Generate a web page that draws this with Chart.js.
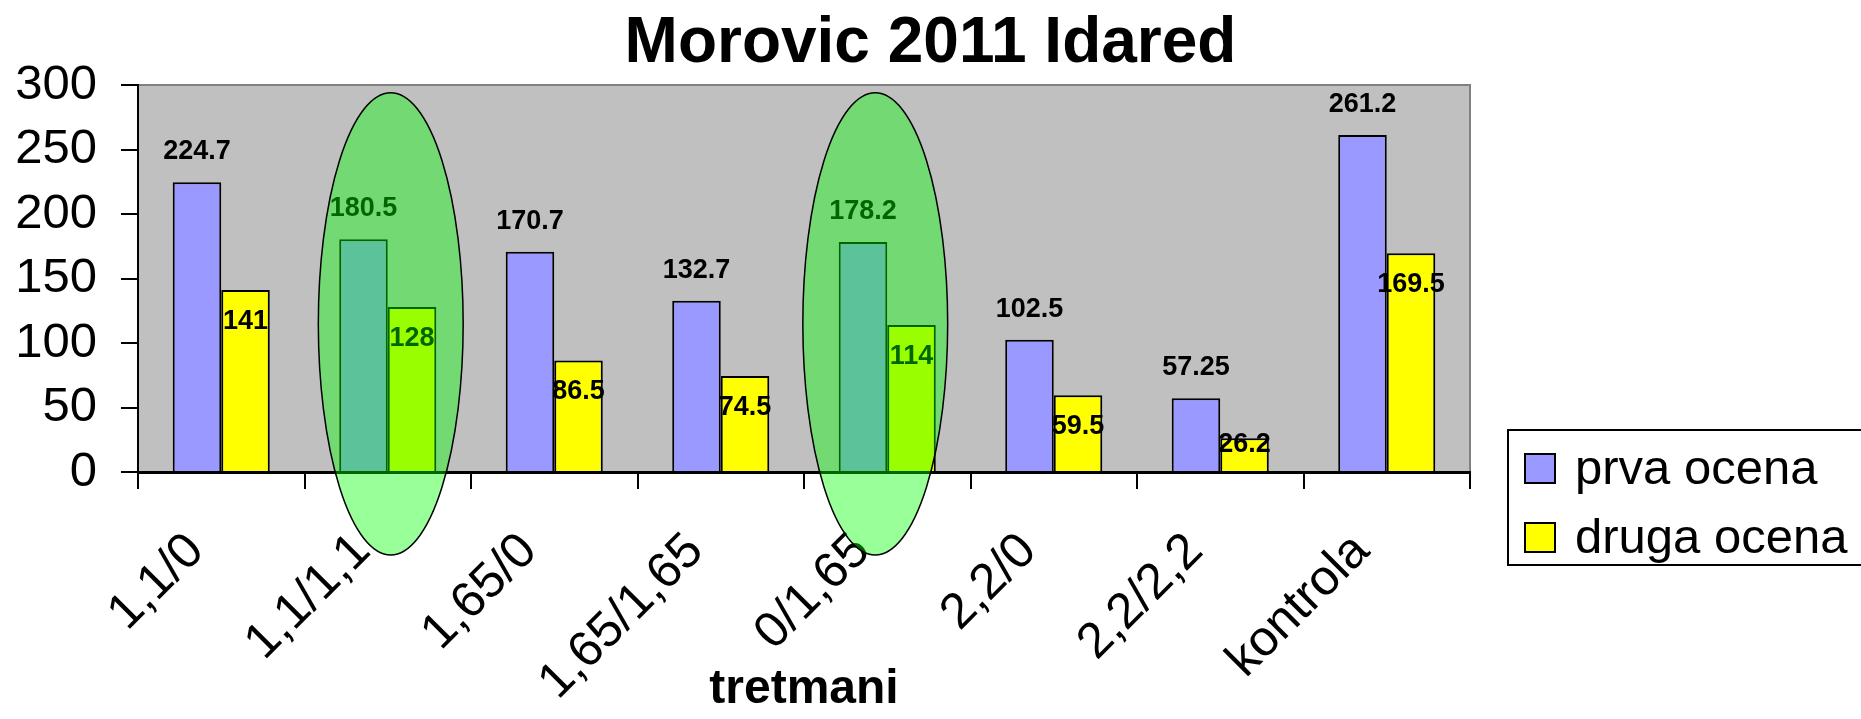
<!DOCTYPE html>
<html>
<head>
<meta charset="utf-8">
<script src="https://cdn.jsdelivr.net/npm/chart.js@4.4.1/dist/chart.umd.min.js"></script>
<style>
    html, body { margin: 0; padding: 0; background: #ffffff; }
    canvas { display: block; }
</style>
</head>
<body>
<canvas id="myChart" width="1861" height="719"></canvas>
<script>
var chartTitle = "Morovic 2011 Idared";
var xTitle = "tretmani";
var xValues = ["1,1/0", "1,1/1,1", "1,65/0", "1,65/1,65", "0/1,65", "2,2/0", "2,2/2,2", "kontrola"];
var prvaValues = [224.7, 180.5, 170.7, 132.7, 178.2, 102.5, 57.25, 261.2];
var drugaValues = [141, 128, 86.5, 74.5, 114, 59.5, 26.2, 169.5];
var seriesNames = ["prva ocena", "druga ocena"];
var seriesColors = ["#9999ff", "#ffff00"];
var yTicks = [0, 50, 100, 150, 200, 250, 300];
// categories circled by the green ellipses
var highlighted = [1, 4];
var highlightShift = [3, -12];

var FONT = "'Liberation Sans', Arial, sans-serif";

// Background, labels, ellipses, title and legend
var decorations = {
    id: 'decorations',
    beforeDraw: function (chart) {
        let ctx = chart.ctx;
        let a = chart.chartArea;
        ctx.save();
        ctx.fillStyle = '#c0c0c0';
        ctx.fillRect(a.left, a.top, a.right - a.left, a.bottom - a.top);
        ctx.strokeStyle = '#808080';
        ctx.lineWidth = 2;
        ctx.beginPath();
        ctx.moveTo(a.left, a.top);
        ctx.lineTo(a.right, a.top);
        ctx.lineTo(a.right, a.bottom);
        ctx.stroke();
        ctx.restore();
    },
    afterDatasetsDraw: function (chart) {
        let ctx = chart.ctx;
        let xs = chart.scales.x;
        let ys = chart.scales.y;
        let a = chart.chartArea;
        let base = ys.getPixelForValue(0);
        ctx.save();
        // value labels
        ctx.fillStyle = '#000';
        ctx.font = 'bold 27px ' + FONT;
        ctx.textAlign = 'center';
        ctx.textBaseline = 'alphabetic';
        chart.getDatasetMeta(0).data.forEach(function (bar, i) {
            ctx.fillText(String(prvaValues[i]), bar.x, bar.y - 23);
        });
        chart.getDatasetMeta(1).data.forEach(function (bar, i) {
            let y = Math.min(bar.y + 39, base - 20);
            ctx.fillText(String(drugaValues[i]), bar.x, y);
        });
        // ellipses over the highlighted treatments
        let catW = (a.right - a.left) / xValues.length;
        highlighted.forEach(function (idx, k) {
            let cx = xs.getPixelForValue(idx) + highlightShift[k];
            let top = ys.getPixelForValue(294);
            let bottom = a.bottom + 83;
            ctx.beginPath();
            ctx.ellipse(cx, (top + bottom) / 2, catW * 0.435, (bottom - top) / 2, 0, 0, Math.PI * 2);
            ctx.fillStyle = 'rgba(0,255,0,0.4)';
            ctx.fill();
            ctx.strokeStyle = '#000';
            ctx.lineWidth = 1.5;
            ctx.stroke();
        });
        ctx.restore();
    },
    afterDraw: function (chart) {
        let ctx = chart.ctx;
        let a = chart.chartArea;
        ctx.save();
        // title
        ctx.fillStyle = '#000';
        ctx.font = 'bold 64px ' + FONT;
        ctx.textAlign = 'center';
        ctx.textBaseline = 'alphabetic';
        ctx.fillText(chartTitle, chart.width / 2, 62);
        // legend
        let lx = a.right + 38;
        let ly = a.bottom - 42;
        ctx.lineWidth = 2;
        ctx.strokeStyle = '#000';
        ctx.strokeRect(lx, ly, 420, 135);
        ctx.font = '49px ' + FONT;
        ctx.textAlign = 'left';
        ctx.textBaseline = 'middle';
        seriesNames.forEach(function (name, i) {
            let cy = ly + 38 + i * 69;
            ctx.fillStyle = seriesColors[i];
            ctx.fillRect(lx + 17, cy - 14, 30, 29);
            ctx.strokeRect(lx + 17, cy - 14, 30, 29);
            ctx.fillStyle = '#000';
            ctx.fillText(name, lx + 67, cy + 2);
        });
        ctx.restore();
    }
};

new Chart("myChart", {
    type: "bar",
    data: {
        labels: xValues,
        datasets: [{
            label: seriesNames[0],
            data: prvaValues,
            backgroundColor: seriesColors[0],
            borderColor: "#000",
            borderWidth: 2
        }, {
            label: seriesNames[1],
            data: drugaValues,
            backgroundColor: seriesColors[1],
            borderColor: "#000",
            borderWidth: 2
        }]
    },
    options: {
        responsive: false,
        animation: false,
        layout: {
            padding: { left: 17, top: 85, right: 391, bottom: 0 }
        },
        plugins: {
            legend: { display: false },
            title: { display: false },
            tooltip: { enabled: false }
        },
        datasets: {
            bar: { categoryPercentage: 0.583, barPercentage: 1.0 }
        },
        scales: {
            x: {
                z: 1,
                grid: { drawOnChartArea: false, tickLength: 17, color: "#000", lineWidth: 2 },
                border: { color: "#000", width: 3 },
                ticks: {
                    color: "#000",
                    font: { family: FONT, size: 50 },
                    minRotation: 45,
                    maxRotation: 45,
                    padding: 33,
                    labelOffset: -25
                },
                title: {
                    display: true,
                    text: xTitle,
                    color: "#000",
                    font: { family: FONT, size: 48, weight: "bold" },
                    padding: 0
                },
                afterFit: function (scale) { scale.height = 247; }
            },
            y: {
                min: 0,
                max: 300,
                afterBuildTicks: function (scale) {
                    scale.ticks = yTicks.map(function (v) { return { value: v }; });
                },
                grid: { drawOnChartArea: false, tickLength: 17, color: "#000", lineWidth: 2 },
                border: { color: "#000", width: 2 },
                ticks: {
                    color: "#000",
                    font: { family: FONT, size: 49 },
                    padding: 24
                },
                afterFit: function (scale) { scale.width = 121; }
            }
        }
    },
    plugins: [decorations]
});
</script>
</body>
</html>
